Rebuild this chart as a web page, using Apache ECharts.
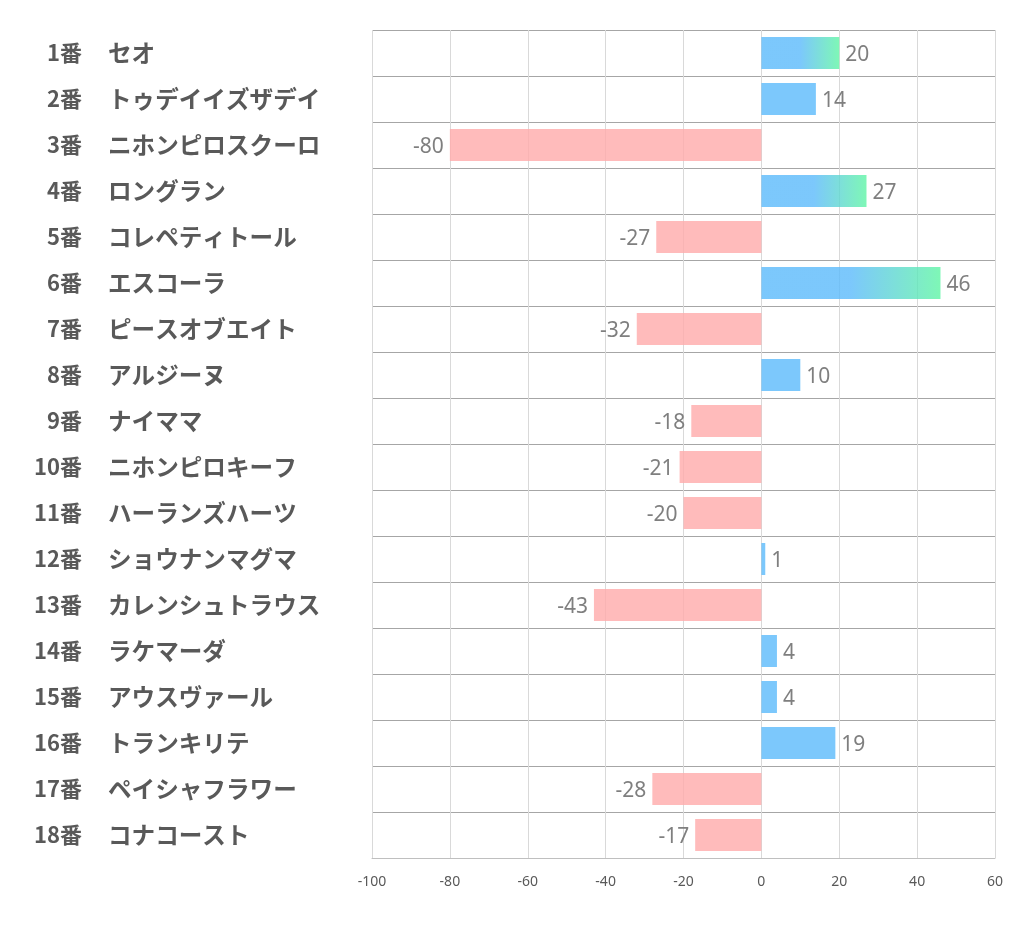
<!DOCTYPE html>
<html>
<head>
<meta charset="utf-8">
<script src="https://cdn.jsdelivr.net/npm/echarts@6/dist/echarts.min.js"></script>
<style>html,body{margin:0;padding:0;background:#fff;}#c{width:1022px;height:939px;}</style>
</head>
<body>
<div id="c"></div>
<script>
const numbers = ['1番','2番','3番','4番','5番','6番','7番','8番','9番','10番','11番','12番','13番','14番','15番','16番','17番','18番'];
const names = ['セオ','トゥデイイズザデイ','ニホンピロスクーロ','ロングラン','コレペティトール','エスコーラ','ピースオブエイト','アルジーヌ','ナイママ','ニホンピロキーフ','ハーランズハーツ','ショウナンマグマ','カレンシュトラウス','ラケマーダ','アウスヴァール','トランキリテ','ペイシャフラワー','コナコースト'];
const values = [20,14,-80,27,-27,46,-32,10,-18,-21,-20,1,-43,4,4,19,-28,-17];
const xTicks = [-100,-80,-60,-40,-20,0,20,40,60];

const BLUE='rgba(91,186,251,0.8)', GREEN='rgba(94,245,164,0.8)', PINK='rgba(255,170,170,0.8)';
const labelFont = '"Noto Sans CJK JP", sans-serif';

const chart = echarts.init(document.getElementById('c'), null, {renderer:'canvas'});
chart.setOption({
  animation:false,
  grid:{left:372,right:27,top:30,bottom:81,containLabel:false},
  xAxis:{type:'value',min:xTicks[0],max:xTicks[xTicks.length-1],interval:20,
    axisLine:{show:true,onZero:false,lineStyle:{color:'#bfbfbf',width:1}},
    axisTick:{show:false},
    axisLabel:{color:'#595959',fontSize:14,margin:17,fontFamily:'"Noto Sans", sans-serif'},
    splitLine:{show:true,lineStyle:{color:'#d9d9d9',width:1}}},
  yAxis:[
    {type:'category',data:numbers,inverse:true,position:'left',
      axisLine:{show:false},axisTick:{show:false},
      splitLine:{show:true,lineStyle:{color:'#a6a6a6',width:1}},
      axisLabel:{margin:290,align:'right',fontSize:22,fontWeight:'bold',color:'#595959',fontFamily:labelFont}},
    {type:'category',data:names,inverse:true,position:'left',
      axisLine:{show:false},axisTick:{show:false},splitLine:{show:false},
      axisLabel:{margin:264,align:'left',fontSize:23.6,fontWeight:'bold',color:'#595959',fontFamily:labelFont}}
  ],
  series:[{type:'bar',barWidth:32,z:1,yAxisIndex:0,
    data:values.map(v=>({value:v,
      itemStyle:{color: v<0?PINK:(v>=20?new echarts.graphic.LinearGradient(0,0,1,0,[{offset:0,color:BLUE},{offset:0.5,color:BLUE},{offset:1,color:GREEN}]):BLUE)},
      label:{show:true,position:v<0?'left':'right',distance:6,offset:[0,2],color:'#7f7f7f',fontSize:21,fontFamily:'"Noto Sans", sans-serif'}
    }))
  }]
});
</script>
</body>
</html>
